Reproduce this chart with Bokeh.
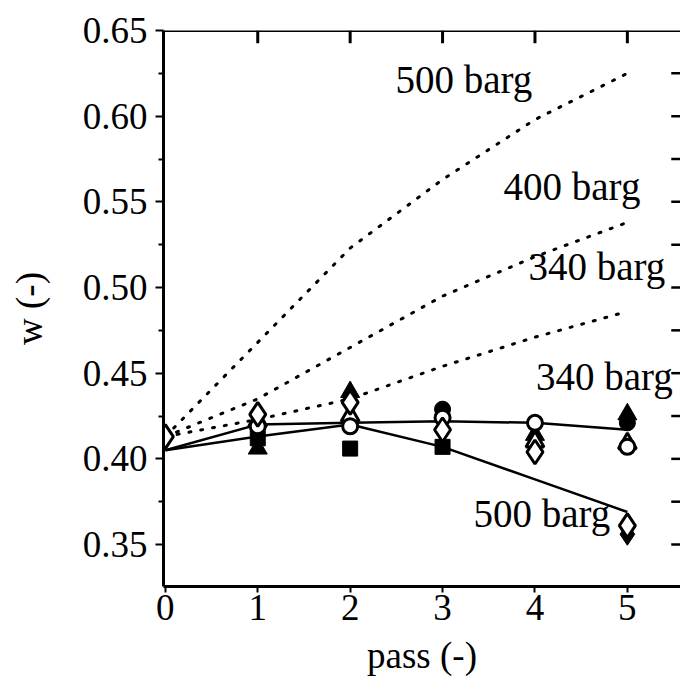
from bokeh.plotting import figure
from bokeh.models import Range1d, LinearAxis, FixedTicker, CustomJSTickFormatter
from bokeh.core.properties import value
from bokeh.embed import file_html
from bokeh.resources import INLINE

FONT = "Liberation Serif"

# ---- data ----
passes = [0, 1, 2, 3, 4, 5]
model_500_dotted = [0.413, 0.468, 0.523, 0.563, 0.598, 0.625]
model_400_dotted = [0.413, 0.435, 0.465, 0.495, 0.518, 0.538]
model_340_dotted = [0.413, 0.423, 0.435, 0.454, 0.471, 0.486]
fit_340_solid = [0.405, 0.420, 0.421, 0.422, 0.421, 0.417]
fit_500_solid = [0.405, 0.413, 0.420, 0.407, 0.388, 0.369]

fc_x = [3, 5];            fc_y = [0.429, 0.421]           # filled circle
oc_x = [1, 2, 3, 4, 5];   oc_y = [0.419, 0.419, 0.424, 0.421, 0.407]  # open circle
ft_x = [1, 2, 4, 5];      ft_y = [0.406, 0.439, 0.414, 0.426]  # filled triangle
ot_x = [1, 2, 4, 5];      ot_y = [0.422, 0.425, 0.410, 0.409]  # open triangle
fs_x = [1, 2, 3];         fs_y = [0.412, 0.406, 0.407]    # filled square
od_x = [0, 1, 2, 3, 4, 5]; od_y = [0.413, 0.426, 0.433, 0.417, 0.404, 0.361]  # open diamond
fd_x = [5];               fd_y = [0.356]                  # filled diamond

label_texts = ["500 barg", "400 barg", "340 barg", "340 barg", "500 barg"]
label_x = [2.49, 3.66, 3.93, 4.01, 3.335]
label_y = [0.6214, 0.559, 0.512, 0.448, 0.368]

y_major = [0.35, 0.40, 0.45, 0.50, 0.55, 0.60, 0.65]
y_minor = [0.325, 0.375, 0.425, 0.475, 0.525, 0.575, 0.625]
x_ticks = [0, 1, 2, 3, 4, 5]
top_ticks = [1, 2, 3, 4, 5]
right_ticks = [0.35, 0.375, 0.40, 0.425, 0.45, 0.475, 0.50, 0.525,
               0.55, 0.575, 0.60, 0.625]

X0, X1 = -0.02, 5.575
Y0, Y1 = 0.3255, 0.65

p = figure(width=680, height=700, output_backend="svg", toolbar_location=None,
           x_range=Range1d(X0, X1), y_range=Range1d(Y0, Y1),
           x_axis_type=None, y_axis_type=None,
           min_border_left=163, min_border_top=30, min_border_bottom=114,
           min_border_right=0)
p.outline_line_color = None
p.grid.visible = False
p.background_fill_color = "white"
p.border_fill_color = "white"


def style(ax):
    ax.axis_line_color = "black"
    ax.major_tick_line_color = "black"
    ax.minor_tick_line_color = "black"
    ax.major_label_text_color = "black"
    ax.axis_label_text_color = "black"


# left axis
la = LinearAxis(ticker=FixedTicker(ticks=y_major, minor_ticks=y_minor),
                formatter=CustomJSTickFormatter(code="return tick.toFixed(2);"))
style(la)
la.axis_label = "w (-)"
la.axis_label_text_font = FONT
la.axis_label_text_font_style = "normal"
la.axis_label_text_font_size = "37px"
la.axis_label_standoff = 30
la.major_label_text_font = FONT
la.major_label_text_font_size = "37px"
la.major_label_standoff = 8
la.major_tick_out = 8
la.major_tick_in = 0
la.minor_tick_out = 5
la.minor_tick_in = 0
la.axis_line_width = 3
la.major_tick_line_width = 2
la.minor_tick_line_width = 2
p.add_layout(la, "left")

# bottom axis
ba = LinearAxis(ticker=FixedTicker(ticks=x_ticks))
style(ba)
ba.axis_label = "pass (-)"
ba.axis_label_text_font = FONT
ba.axis_label_text_font_style = "normal"
ba.axis_label_text_font_size = "37px"
ba.axis_label_standoff = 12
ba.major_label_text_font = FONT
ba.major_label_text_font_size = "37px"
ba.major_label_standoff = 2
ba.major_tick_out = 6
ba.major_tick_in = 0
ba.minor_tick_out = 0
ba.minor_tick_in = 0
ba.axis_line_width = 3
ba.major_tick_line_width = 2
p.add_layout(ba, "below")

# top spine and inward ticks on top / right edges of the frame
p.segment(x0=[X0], y0=[Y1], x1=[X1], y1=[Y1], line_color="black", line_width=3)
p.segment(x0=top_ticks, y0=[Y1] * len(top_ticks),
          x1=top_ticks, y1=[Y1 - 0.0075] * len(top_ticks),
          line_color="black", line_width=3)
p.segment(x0=[X1 - 0.1] * len(right_ticks), y0=right_ticks,
          x1=[X1] * len(right_ticks), y1=right_ticks,
          line_color="black", line_width=2.5)

# dotted model lines
for ys in (model_500_dotted, model_400_dotted, model_340_dotted):
    p.line(passes, ys, line_color="black", line_width=3, line_dash="2 10",
           line_cap="round")

# solid fitted lines
for ys in (fit_340_solid, fit_500_solid):
    p.line(passes, ys, line_color="black", line_width=2.5)

# markers
p.scatter(fs_x, fs_y, marker="square", size=15, fill_color="black", line_color="black")
p.scatter(ft_x, ft_y, marker="triangle", size=19, fill_color="black", line_color="black")
p.scatter(fc_x, fc_y, marker="circle", size=16, fill_color="black", line_color="black")
p.scatter(fd_x, fd_y, marker="diamond", size=22, fill_color="black", line_color="black")
p.scatter(ot_x, ot_y, marker="triangle", size=18, fill_color="white", line_color="black", line_width=3)
p.scatter(oc_x, oc_y, marker="circle", size=15, fill_color="white", line_color="black", line_width=3)
p.scatter(od_x, od_y, marker="diamond", size=24, fill_color="white", line_color="black", line_width=3)

# labels
p.text(label_x, label_y, text=label_texts, text_font=value(FONT),
       text_font_size="39px", text_baseline="middle", text_align="left",
       text_color="black")

open("out.html", "w").write(file_html(p, INLINE))
